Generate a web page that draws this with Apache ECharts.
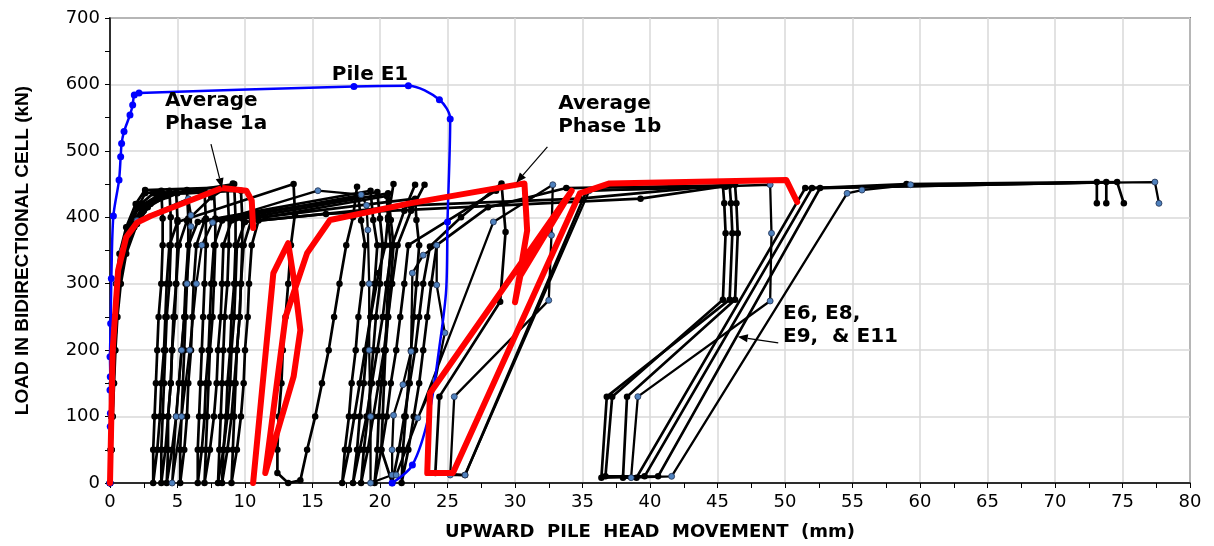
<!DOCTYPE html>
<html>
<head>
<meta charset="utf-8">
<script src="https://cdn.jsdelivr.net/npm/echarts@6/dist/echarts.min.js"></script>
<style>html,body{margin:0;padding:0;background:#fff}#c{width:1214px;height:546px}</style>
</head>
<body>
<div id="c"></div>
<script>
// ---------- data (upward movement mm, load kN) ----------
const xTicks = [0,5,10,15,20,25,30,35,40,45,50,55,60,65,70,75,80];
const yTicks = [0,100,200,300,400,500,600,700];

const pileE1Upper = [[0,0],[0.02,85],[0.03,105],[0.0,140],[0.02,160],[0.0,190],[0.05,240],[0.1,308],[0.25,402],[0.67,456],[0.79,491],[0.86,511],[1.04,529],[1.48,554],[1.68,569],[1.8,584],[2.15,587],[18.07,597],[22.1,598],[24.4,577],[25.2,548],[25.0,393]];
const pileE1Bend = [[24.9,290],[24.4,205],[23.6,100]];
const pileE1Lower = [[22.4,27],[20.9,0]];

const avgPhase1a = [[0,0],[0.2,200],[0.6,320],[1.2,370],[2.0,392],[3.0,402],[8.3,444],[10.1,440],[10.5,425],[10.6,384]];
const avgPhase1b = [[10.6,0],[12.1,316],[13.2,361],[13.7,296],[14.1,230],[13.6,160],[11.5,15],[13.0,250],[14.6,346],[16.3,396],[22.2,421],[30.7,451],[30.9,380],[30.0,272],[30.4,312],[34.2,440],[23.7,135],[23.5,15],[25.4,15],[34.8,436],[37.0,451],[50.1,456],[50.9,423]];

const testP1 = [[0,0],[0.1,50],[0.15,100],[0.2,150],[0.3,200],[0.45,250],[0.6,300],[0.9,345],[1.5,385],[2.2,420],[2.6,436],[3.8,440],[3.9,398],[3.9,358],[3.8,300],[3.6,250],[3.5,200],[3.4,150],[3.3,100],[3.2,50],[3.2,0],[3.5,50],[3.7,100],[3.8,150],[4.0,200],[4.1,250],[4.2,300],[4.4,358],[5.0,393],[13.6,450],[13.7,405],[13.4,358],[13.2,300],[13.0,250],[12.8,200],[12.7,150],[12.5,100],[12.4,50],[12.4,15],[13.2,0],[14.1,4],[14.6,50],[15.2,100],[15.7,150],[16.2,200],[16.6,250],[17.0,300],[17.5,358],[18.0,400],[18.3,446]];
const testP2 = [[0,0],[0.1,50],[0.15,100],[0.25,150],[0.35,200],[0.5,250],[0.7,300],[1.0,345],[1.6,382],[2.5,410],[4.4,440],[4.5,400],[4.5,358],[4.4,300],[4.2,250],[4.1,200],[4.0,150],[3.9,100],[3.8,50],[3.8,0],[4.1,50],[4.3,100],[4.5,150],[4.6,200],[4.8,250],[4.9,300],[5.1,358],[5.7,395],[7.5,430],[9.1,451]];
const testP3 = [[0,0],[0.08,50],[0.12,100],[0.2,150],[0.3,200],[0.4,250],[0.6,300],[0.85,340],[1.4,380],[2.3,412],[3.5,432],[4.9,438],[5.0,396],[5.0,358],[4.9,300],[4.7,250],[4.6,200],[4.5,150],[4.3,100],[4.3,50],[4.2,0],[4.6,50],[4.9,100],[5.1,150],[5.3,200],[5.5,250],[5.6,300],[5.8,358],[6.5,393],[18.4,430],[18.6,395],[18.9,358],[18.7,300],[18.4,250],[18.2,200],[17.9,150],[17.7,100],[17.4,50],[17.2,0],[17.7,50],[18.1,100],[18.5,150],[18.9,200],[19.3,250],[19.9,316],[20.4,358],[20.6,400],[21.0,450]];
const testP4 = [[0,0],[0.1,50],[0.18,100],[0.25,150],[0.35,200],[0.5,250],[0.75,300],[1.1,345],[1.8,385],[2.8,415],[4.2,432],[5.7,441],[5.8,398],[5.8,358],[5.7,300],[5.6,250],[5.5,200],[5.4,150],[5.3,100],[5.2,50],[5.2,0],[5.5,50],[5.7,100],[5.8,150],[6.0,200],[6.1,250],[6.2,300],[6.4,358],[7.0,395],[19.3,440],[19.5,396],[19.8,358],[19.6,300],[19.3,250],[19.0,200],[18.8,150],[18.5,100],[18.3,50],[18.0,0],[18.5,50],[19.0,100],[19.4,150],[19.8,200],[20.2,250],[20.5,300],[20.9,358],[21.8,410],[22.6,449]];
const testP5 = [[0,0],[0.06,50],[0.1,100],[0.15,150],[0.25,200],[0.35,250],[0.55,300],[0.8,345],[1.3,385],[2.0,415],[3.2,436],[7.0,440],[7.1,398],[7.1,358],[7.0,300],[6.9,250],[6.8,200],[6.7,150],[6.6,100],[6.5,50],[6.5,0],[6.8,50],[7.0,100],[7.1,150],[7.3,200],[7.4,250],[7.5,300],[7.7,358],[8.3,395],[19.8,438],[20.0,398],[20.2,358],[20.0,300],[19.7,250],[19.5,200],[19.3,150],[19.1,100],[18.8,50],[18.6,0],[19.1,50],[19.5,100],[19.9,150],[20.3,200],[20.6,250],[20.9,300],[21.3,358],[22.3,410],[23.3,449]];
const testP6 = [[0,0],[0.1,50],[0.2,100],[0.3,150],[0.4,200],[0.55,250],[0.8,300],[1.2,345],[2.0,390],[3.0,420],[5.0,436],[7.7,438],[7.8,398],[7.8,358],[7.7,300],[7.6,250],[7.4,200],[7.3,150],[7.2,100],[7.1,50],[7.0,0],[7.4,50],[7.7,100],[7.9,150],[8.0,200],[8.2,250],[8.3,300],[8.4,358],[9.0,395],[20.6,436],[20.8,396],[21.0,358],[20.8,300],[20.6,250],[20.4,200],[20.1,150],[19.9,100],[19.8,50],[19.6,0],[20.1,50],[20.5,100],[20.8,150],[21.2,200],[21.5,250],[21.8,300],[22.1,358],[28.6,440]];
const testEa = [[0,0],[0.05,50],[0.1,100],[0.15,150],[0.2,200],[0.3,250],[0.45,300],[0.7,345],[1.2,385],[1.9,420],[2.6,441],[8.7,445],[8.8,398],[8.8,358],[8.7,300],[8.5,250],[8.4,200],[8.3,150],[8.2,100],[8.1,50],[8.0,0],[8.4,50],[8.7,100],[8.9,150],[9.0,200],[9.2,250],[9.3,300],[9.4,358],[10.0,393],[22.2,418],[34.8,428],[45.4,448],[45.5,421],[45.6,376],[45.4,276],[37.2,130],[36.7,10],[39.6,10],[52.0,444],[59.0,450],[73.1,453],[73.1,421]];
const testEb = [[0,0],[0.08,50],[0.12,100],[0.2,150],[0.28,200],[0.4,250],[0.55,300],[0.8,345],[1.3,385],[2.1,415],[3.5,432],[9.2,450],[9.3,398],[9.3,358],[9.2,300],[9.0,250],[8.9,200],[8.7,150],[8.6,100],[8.4,50],[8.3,0],[8.7,50],[9.0,100],[9.2,150],[9.4,200],[9.6,250],[9.7,300],[9.9,358],[10.5,398],[22.6,428],[22.7,396],[22.9,358],[22.7,300],[22.5,250],[22.3,200],[22.1,150],[21.9,100],[21.7,50],[21.6,0],[22.1,50],[22.5,100],[22.9,150],[23.2,200],[23.5,250],[23.8,300],[24.2,358],[28.0,415],[33.8,444],[45.9,448],[46.0,421],[46.1,376],[45.9,276],[36.8,130],[36.4,8],[40.6,10],[52.6,444],[73.8,453],[73.8,421]];
const testEc = [[0,0],[0.1,50],[0.15,100],[0.22,150],[0.32,200],[0.45,250],[0.65,300],[0.95,345],[1.6,388],[2.6,418],[4.0,435],[9.7,440],[9.8,398],[9.8,358],[9.7,300],[9.6,250],[9.4,200],[9.3,150],[9.2,100],[9.1,50],[9.0,0],[9.4,50],[9.7,100],[9.9,150],[10.0,200],[10.2,250],[10.3,300],[10.5,358],[11.0,395],[16.0,405],[39.3,428],[46.3,449],[46.4,421],[46.5,376],[46.3,276],[38.3,130],[38.0,8],[39.0,8],[51.5,444],[74.6,453],[75.1,421]];
const testEd = [[0,0],[0.05,50],[0.1,100],[0.15,150],[0.2,200],[0.3,250],[0.5,300],[0.9,350],[2.0,395],[5.8,428],[6.0,403],[6.0,386],[5.7,300],[5.3,200],[4.9,100],[4.6,0],[5.3,100],[5.9,200],[6.4,300],[6.8,358],[7.6,392],[15.4,440],[18.6,434],[19.0,418],[19.1,381],[19.2,300],[19.2,200],[19.3,100],[19.3,0],[20.9,12],[20.9,50],[21.0,102],[21.7,148],[22.3,198],[22.4,316],[23.2,343],[24.2,358],[24.2,298],[24.8,226],[24.1,155],[22.8,98],[21.2,12],[28.4,393],[32.8,449],[32.7,373],[32.5,275],[25.5,130],[25.2,12],[26.3,12],[35.5,440],[48.9,449],[49.0,376],[48.9,274],[39.1,130],[38.6,8],[41.6,10],[54.6,436],[55.7,441],[59.3,449],[77.4,453],[77.7,421]];
const testEe = [[11.5,400],[20.5,432],[20.6,396],[20.8,358],[20.6,300],[20.5,250],[20.4,200],[20.3,150],[20.2,100],[20.1,50],[20.9,0],[21.4,50],[21.8,100],[22.2,150],[22.6,200],[22.9,250],[23.2,300],[23.7,356],[26.0,400],[29.0,451],[29.3,378],[28.9,273],[24.4,130],[24.1,15],[26.3,12],[35.3,440],[45.6,446]];

// annotation anchors (data coordinates)
const labelPileE1 = [19.26, 614];
const label1aPos = [4.07, 558];
const arrow1a = [[7.48, 510], [8.3, 444]];
const label1bPos = [33.2, 554];
const arrow1b = [[32.4, 506], [30.1, 452]];
const labelEPos = [49.85, 238];
const arrowE = [[49.5, 211], [46.5, 220]];

// ---------- chart ----------
const chart = echarts.init(document.getElementById('c'), null, {renderer: 'canvas'});
const FONT = 'DejaVu Sans';

const blackTests = [testP1, testP2, testP3, testP4, testP5, testP6, testEa, testEb, testEc, testEe];
const series = [];
blackTests.forEach(d => series.push({
  type: 'line', data: d, symbol: 'circle', symbolSize: 6.5, z: 2,
  lineStyle: {color: '#000', width: 2.7}, itemStyle: {color: '#000'}, silent: true
}));
series.push({
  type: 'line', data: testEd, symbol: 'circle', symbolSize: 6, z: 3,
  lineStyle: {color: '#000', width: 2.3},
  itemStyle: {color: '#4f81bd', borderColor: '#1f2f4f', borderWidth: 0.8}, silent: true
});
series.push({
  type: 'line', smooth: 0.3, symbol: 'circle', symbolSize: 7, z: 4,
  data: [...pileE1Upper, ...pileE1Bend.map(v => ({value: v, symbolSize: 0})), ...pileE1Lower],
  lineStyle: {color: '#0000ff', width: 2.5}, itemStyle: {color: '#0000ff'}, silent: true
});
[avgPhase1a, avgPhase1b].forEach(d => series.push({
  type: 'line', data: d, symbol: 'none', z: 5,
  lineStyle: {color: '#ff0000', width: 6, join: 'round', cap: 'round'}, silent: true
}));

chart.setOption({
  animation: false,
  backgroundColor: '#fff',
  grid: {left: 110, right: 24, top: 18, bottom: 63, show: true, borderColor: '#1a1a1a', borderWidth: 1.5, backgroundColor: 'transparent'},
  xAxis: {
    type: 'value', min: xTicks[0], max: xTicks[xTicks.length - 1], interval: 5,
    axisLine: {show: true, lineStyle: {color: '#000', width: 1.5}},
    axisTick: {show: true, length: 5, lineStyle: {color: '#000', width: 1}},
    minorTick: {show: true, splitNumber: 2, length: 5, lineStyle: {color: '#000', width: 1}},
    splitLine: {show: true, lineStyle: {color: '#d9d9d9', width: 1.5}},
    axisLabel: {fontFamily: FONT, fontSize: 18, color: '#000', margin: 10},
    name: 'UPWARD  PILE  HEAD  MOVEMENT  (mm)', nameLocation: 'middle', nameGap: 40,
    nameTextStyle: {fontFamily: FONT, fontWeight: 'bold', fontSize: 18, color: '#000'}
  },
  yAxis: {
    type: 'value', min: yTicks[0], max: yTicks[yTicks.length - 1], interval: 100,
    axisLine: {show: true, lineStyle: {color: '#000', width: 1.5}},
    axisTick: {show: true, length: 5, lineStyle: {color: '#000', width: 1}},
    minorTick: {show: true, splitNumber: 2, length: 5, lineStyle: {color: '#000', width: 1}},
    splitLine: {show: true, lineStyle: {color: '#d9d9d9', width: 1.5}},
    axisLabel: {fontFamily: FONT, fontSize: 18, color: '#000', margin: 10},
    name: 'LOAD IN BIDIRECTIONAL CELL (kN)', nameLocation: 'middle', nameGap: 78,
    nameTextStyle: {fontFamily: 'Liberation Sans', fontWeight: 'bold', fontSize: 19, color: '#000'}
  },
  series: series
});

function px(p) { return chart.convertToPixel({gridIndex: 0}, p); }
function arrow(a, b) {
  const p0 = px(a), p1 = px(b);
  const ang = Math.atan2(p1[1] - p0[1], p1[0] - p0[0]);
  const L = 10, W = 4;
  const bx = p1[0] - L * Math.cos(ang), by = p1[1] - L * Math.sin(ang);
  const nx = -Math.sin(ang) * W, ny = Math.cos(ang) * W;
  return [
    {type: 'line', shape: {x1: p0[0], y1: p0[1], x2: bx, y2: by}, style: {stroke: '#000', lineWidth: 1.2}, z: 100},
    {type: 'polygon', shape: {points: [[p1[0], p1[1]], [bx + nx, by + ny], [bx - nx, by - ny]]}, style: {fill: '#000'}, z: 100}
  ];
}
function text(pos, str, align, vAlign) {
  const p = px(pos);
  return {type: 'text', x: p[0], y: p[1], z: 100,
    style: {text: str, fill: '#000', font: 'bold 20px "DejaVu Sans"', textAlign: align, textVerticalAlign: vAlign, lineHeight: 23}};
}
chart.setOption({
  graphic: [
    text(labelPileE1, 'Pile E1', 'center', 'middle'),
    text(label1aPos, 'Average\nPhase 1a', 'left', 'middle'),
    text(label1bPos, 'Average\nPhase 1b', 'left', 'middle'),
    text(labelEPos, 'E6, E8,\nE9,  & E11', 'left', 'middle'),
    ...arrow(arrow1a[0], arrow1a[1]),
    ...arrow(arrow1b[0], arrow1b[1]),
    ...arrow(arrowE[0], arrowE[1])
  ]
});
</script>
</body>
</html>
